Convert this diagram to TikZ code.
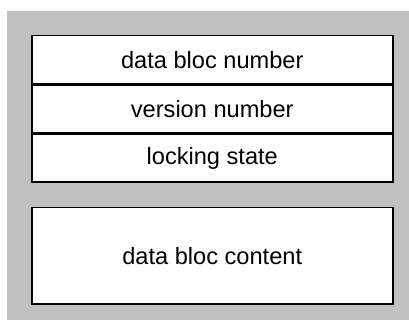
\documentclass[tikz,border=0pt]{standalone}
\usepackage{fontspec}
\setmainfont{Liberation Sans}
\begin{document}
\begin{tikzpicture}[x=1pt,y=-1pt,
  field/.style={draw=black,line width=1.5pt,fill=white,minimum width=361pt,inner sep=0pt,font=\fontsize{23.6}{28}\selectfont,anchor=north west}]
\useasboundingbox[fill=white] (0,0) rectangle (409,320);
\fill[fill={rgb,255:red,192;green,192;blue,192}] (7,11) rectangle (409,320);
\node[field,minimum height=47.7pt] (num) at (31,35) {data bloc number};
\node[field,minimum height=47.7pt] (ver) at (num.south west) {version number};
\node[field,minimum height=47.7pt] (lock) at (ver.south west) {locking state};
\node[field,minimum height=96pt] (content) at (31,207) {data bloc content};
\end{tikzpicture}
\end{document}
